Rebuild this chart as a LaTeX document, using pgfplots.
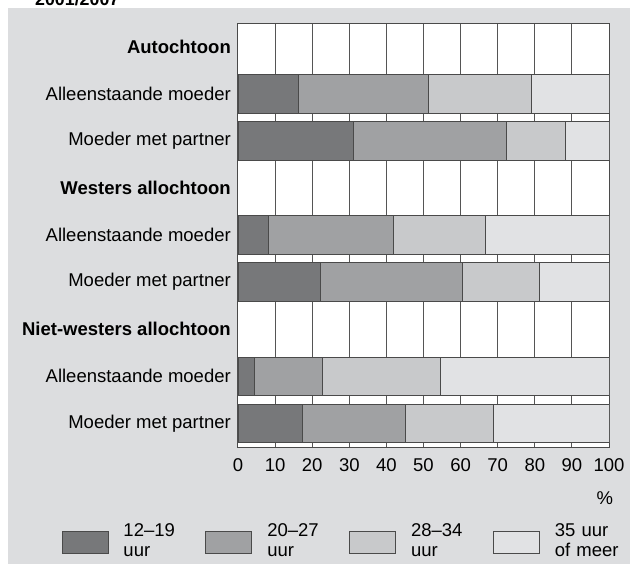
\documentclass[border=0pt]{standalone}
\usepackage{fontspec}
\setmainfont{Liberation Sans}
\usepackage{pgfplots}
\pgfplotsset{compat=1.18}
\definecolor{bgcol}{HTML}{DCDDDF}
\definecolor{cA}{HTML}{77787A}
\definecolor{cB}{HTML}{A0A1A3}
\definecolor{cC}{HTML}{C8C9CB}
\definecolor{cD}{HTML}{E1E2E4}
\definecolor{edgecol}{HTML}{4A4A4A}
\definecolor{gridcol}{HTML}{555555}
\newcommand{\fs}{\fontsize{18.5pt}{20pt}\selectfont}
\begin{document}
\fs
\begin{tikzpicture}[x=1pt,y=1pt]
\useasboundingbox (0,0) rectangle (630,-563);
\clip (0,0) rectangle (630,-563);
\fill[bgcol] (8,-8.3) rectangle (631,-564);
\node[anchor=base west, inner sep=0pt, font=\fontsize{17.8pt}{20pt}\selectfont\bfseries] at (35,-5) {2001/2007};
\begin{axis}[
  at={(238pt,-23pt)}, anchor=north west,
  scale only axis, width=371pt, height=424pt,
  xmin=0, xmax=100, ymin=-0.5, ymax=8.5, y dir=reverse,
  xbar stacked, bar width=38.5pt,
  axis background/.style={fill=white},
  axis line style={draw=edgecol, line width=1pt},
  xmajorgrids, grid style={draw=gridcol, line width=1pt},
  major tick length=0pt,
  xtick={0,10,...,100},
  ytick={0,...,8},
  yticklabels={\textbf{Autochtoon},Alleenstaande moeder,Moeder met partner,\textbf{Westers allochtoon},Alleenstaande moeder,Moeder met partner,\textbf{Niet-westers allochtoon},Alleenstaande moeder,Moeder met partner},
  /pgf/number format/assume math mode=true,
  xticklabel style={font=\fs, inner sep=0pt, yshift=-11.5pt},
  yticklabel style={font=\fs, inner sep=0pt, xshift=-7pt},
  xlabel={\%},
  xlabel style={at={(axis description cs:0.989,-0.120)}, anchor=center, inner sep=0pt, font=\fs},
  every axis plot/.append style={draw=edgecol, line width=0.8pt},
  legend columns=4,
  legend image code/.code={\draw[#1] (0pt,-17pt) rectangle (46pt,5pt); \path (61pt,0pt);},
  legend style={at={(axis description cs:-0.4752,-0.179)}, anchor=north west, draw=none, fill=none, inner sep=0pt, outer sep=0pt,
    nodes={anchor=west, inner sep=0pt, text width=82pt, font=\fs}},
]
\addplot[fill=cA] coordinates {(16.2,1) (31.2,2) (8.3,4) (22.1,5) (4.5,7) (17.4,8)};
\addlegendentry{\begin{tabular}[c]{@{}l@{}}12–19\\uur\end{tabular}}
\addplot[fill=cB] coordinates {(35,1) (41.2,2) (33.5,4) (38.3,5) (18.2,7) (27.6,8)};
\addlegendentry{\begin{tabular}[c]{@{}l@{}}20–27\\uur\end{tabular}}
\addplot[fill=cC] coordinates {(27.9,1) (15.9,2) (24.9,4) (20.9,5) (31.8,7) (23.8,8)};
\addlegendentry{\begin{tabular}[c]{@{}l@{}}28–34\\uur\end{tabular}}
\addplot[fill=cD] coordinates {(20.9,1) (11.7,2) (33.3,4) (18.7,5) (45.5,7) (31.2,8)};
\addlegendentry{\begin{tabular}[c]{@{}l@{}}35 uur\\of meer\end{tabular}}
\end{axis}
\end{tikzpicture}
\end{document}
